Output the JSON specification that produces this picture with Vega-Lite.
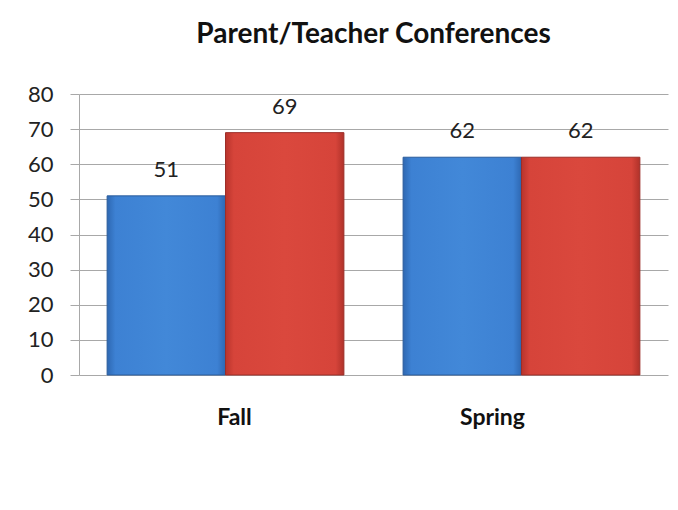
{
  "$schema": "https://vega.github.io/schema/vega-lite/v6.json",
  "width": 589,
  "height": 281,
  "autosize": "none",
  "padding": {"left": 79, "top": 94, "right": 10, "bottom": 135},
  "background": "white",
  "title": {
    "text": "Parent/Teacher Conferences",
    "font": "Lato",
    "fontSize": 28,
    "fontWeight": "bold",
    "color": "#111111",
    "anchor": "middle",
    "offset": 34
  },
  "data": {
    "values": [
      {"term": "Fall", "series": "A", "value": 51},
      {"term": "Fall", "series": "B", "value": 69},
      {"term": "Spring", "series": "A", "value": 62},
      {"term": "Spring", "series": "B", "value": 62}
    ]
  },
  "encoding": {
    "x": {
      "field": "term",
      "type": "nominal",
      "scale": {"paddingInner": 0.2, "paddingOuter": 0.095},
      "axis": {
        "title": null,
        "labelAngle": 0,
        "labelFont": "Lato",
        "labelFontSize": 23,
        "labelFontWeight": "bold",
        "labelColor": "#111111",
        "labelPadding": 31,
        "labelOffset": {"condition": {"test": "datum.value === 'Fall'", "value": 9}, "value": -29},
        "ticks": false,
        "domain": false,
        "grid": false
      }
    },
    "xOffset": {"field": "series", "type": "nominal", "scale": {"domain": ["A", "B"], "paddingInner": 0, "paddingOuter": 0}},
    "y": {
      "field": "value",
      "type": "quantitative",
      "scale": {"domain": [0, 80]},
      "axis": {
        "title": null,
        "values": [0, 10, 20, 30, 40, 50, 60, 70, 80],
        "labelFont": "Lato",
        "labelFontSize": 22,
        "labelColor": "#222222",
        "labelPadding": 17,
        "tickSize": 9,
        "tickColor": "#a8a8a8",
        "gridColor": "#a8a8a8",
        "domainColor": "#a8a8a8"
      }
    }
  },
  "layer": [
    {
      "transform": [{"filter": "datum.series === 'A'"}],
      "mark": {
        "type": "bar",
        "stroke": "#2a5c9c",
        "strokeWidth": 1,
        "color": {
          "gradient": "linear", "x1": 0, "x2": 1, "y1": 0, "y2": 0,
          "stops": [
            {"offset": 0, "color": "#2e68b2"},
            {"offset": 0.07, "color": "#3d81d3"},
            {"offset": 0.5, "color": "#4288d8"},
            {"offset": 0.93, "color": "#3d81d3"},
            {"offset": 1, "color": "#2e68b2"}
          ]
        }
      }
    },
    {
      "transform": [{"filter": "datum.series === 'B'"}],
      "mark": {
        "type": "bar",
        "stroke": "#9c2e28",
        "strokeWidth": 1,
        "color": {
          "gradient": "linear", "x1": 0, "x2": 1, "y1": 0, "y2": 0,
          "stops": [
            {"offset": 0, "color": "#b8342c"},
            {"offset": 0.07, "color": "#d6443a"},
            {"offset": 0.5, "color": "#da483d"},
            {"offset": 0.93, "color": "#d6443a"},
            {"offset": 1, "color": "#b0322a"}
          ]
        }
      }
    },
    {
      "mark": {"type": "text", "baseline": "bottom", "dy": -14, "font": "Lato", "fontSize": 22, "color": "#222222"},
      "encoding": {"text": {"field": "value", "type": "quantitative"}}
    }
  ],
  "config": {"view": {"stroke": null}}
}
